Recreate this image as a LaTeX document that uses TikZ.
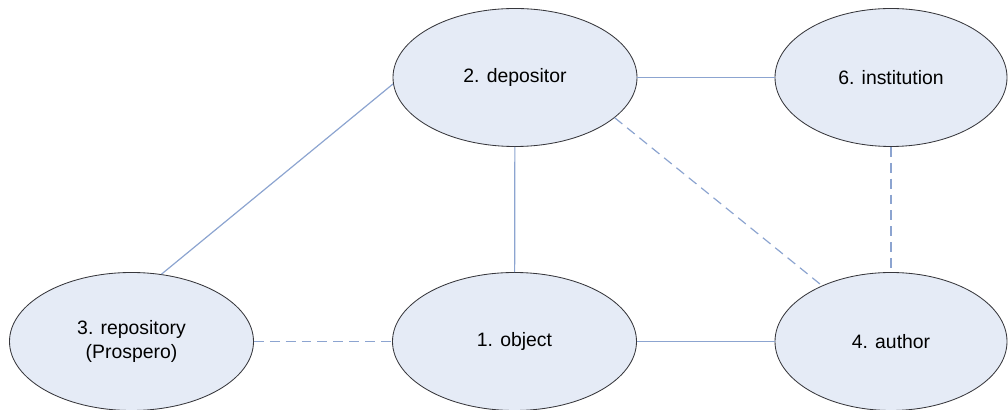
\documentclass[tikz,border=0pt]{standalone}
\usepackage{fontspec}
\setmainfont{Liberation Sans}
\usepackage{xcolor}
\usepackage{tikz}
\usetikzlibrary{shapes.geometric}
\definecolor{bubble}{RGB}{229,235,246}
\definecolor{rim}{RGB}{55,55,60}
\definecolor{link}{RGB}{140,164,208}
\tikzset{
  role/.style={draw=rim, line width=0.6pt, ellipse, fill=bubble, inner sep=0pt, align=center,
    minimum width=6.1cm, minimum height=3.45cm, font=\fontsize{13.8}{16.5}\selectfont},
  narrow/.style={role, minimum width=5.8cm},
  rel/.style={draw=link, line width=0.85pt},
  weakrel/.style={rel, dash pattern=on 7pt off 4.3pt}
}
\begin{document}
\begin{tikzpicture}
  \useasboundingbox (0,0) rectangle (25.2,10.25);
  % top row y=8.31 / bottom row y=1.71
  \node[role]   (depositor)   at (12.875,8.3125) {2. depositor};
  \node[narrow] (institution) at (22.275,8.3125) {6. institution};
  \node[role]   (repository)  at (3.2875,1.7125) {3. repository\\(Prospero)};
  \node[role]   (object)      at (12.8625,1.7125) {1. object};
  \node[narrow] (author)      at (22.275,1.7125) {4. author};

  % links
  \draw[rel] (depositor) -- (institution);
  \draw[rel] (depositor) -- (object);
  \draw[rel] (depositor.183) -- (repository.66);
  \draw[rel] (object) -- (author);
  \draw[weakrel] (repository) -- (object);
  \draw[weakrel] (depositor.-22) -- (author.141);
  \draw[weakrel] (institution) -- (author);
\end{tikzpicture}
\end{document}
